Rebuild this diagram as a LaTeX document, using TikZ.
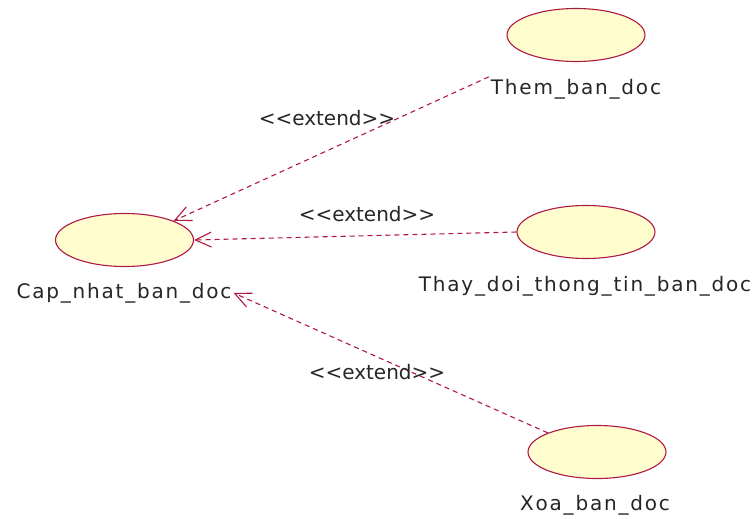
\documentclass[tikz,border=0pt]{standalone}
\usepackage{fontspec}
\setmainfont{DejaVu Sans}[LetterSpace=9]
\usetikzlibrary{arrows.meta,shapes.geometric}
\definecolor{ucfill}{RGB}{255,252,206}
\definecolor{ucline}{RGB}{176,24,68}

\begin{document}
\begin{tikzpicture}[x=1pt,y=-1pt,
  usecase/.style={ellipse,draw=ucline,fill=ucfill,line width=1.1pt,
    minimum width=138pt,minimum height=53pt,inner sep=0pt},
  uclabel/.style={font=\fontsize{20}{24}\selectfont,text=black!85,inner sep=2pt},
  stereo/.style={font=\fontsize{20}{24}\selectfont\addfontfeature{LetterSpace=0},text=black!85,inner sep=1pt},
  extendline/.style={draw=ucline,line width=1.1pt,dash pattern=on 5pt off 4pt,
    -{Straight Barb[length=16pt,width=15pt,line width=1.1pt]}}]
\useasboundingbox (0,0) rectangle (755,519);
% use cases
\node[usecase] (cap) at (124.5,240) {};
\node[uclabel] (caplbl) at (124,293) {Cap\_nhat\_ban\_doc};
\node[usecase] (them) at (576,35) {};
\node[uclabel] (themlbl) at (576,89) {Them\_ban\_doc};
\node[usecase] (thay) at (586,232) {};
\node[uclabel] (thaylbl) at (585,286) {Thay\_doi\_thong\_tin\_ban\_doc};
\node[usecase] (xoa) at (597,452) {};
\node[uclabel] (xoalbl) at (595,505) {Xoa\_ban\_doc};
% extend relations
\draw[extendline] (themlbl.north west) -- (cap.north east);
\draw[extendline] (thay.west) -- (cap.east);
\draw[extendline] (xoa.north west) -- (caplbl.east);
\node[stereo] (ext1) at (327,118) {<{}<extend>{}>};
\node[stereo] (ext2) at (367,214) {<{}<extend>{}>};
\node[stereo] (ext3) at (377,372) {<{}<extend>{}>};
\end{tikzpicture}
\end{document}
